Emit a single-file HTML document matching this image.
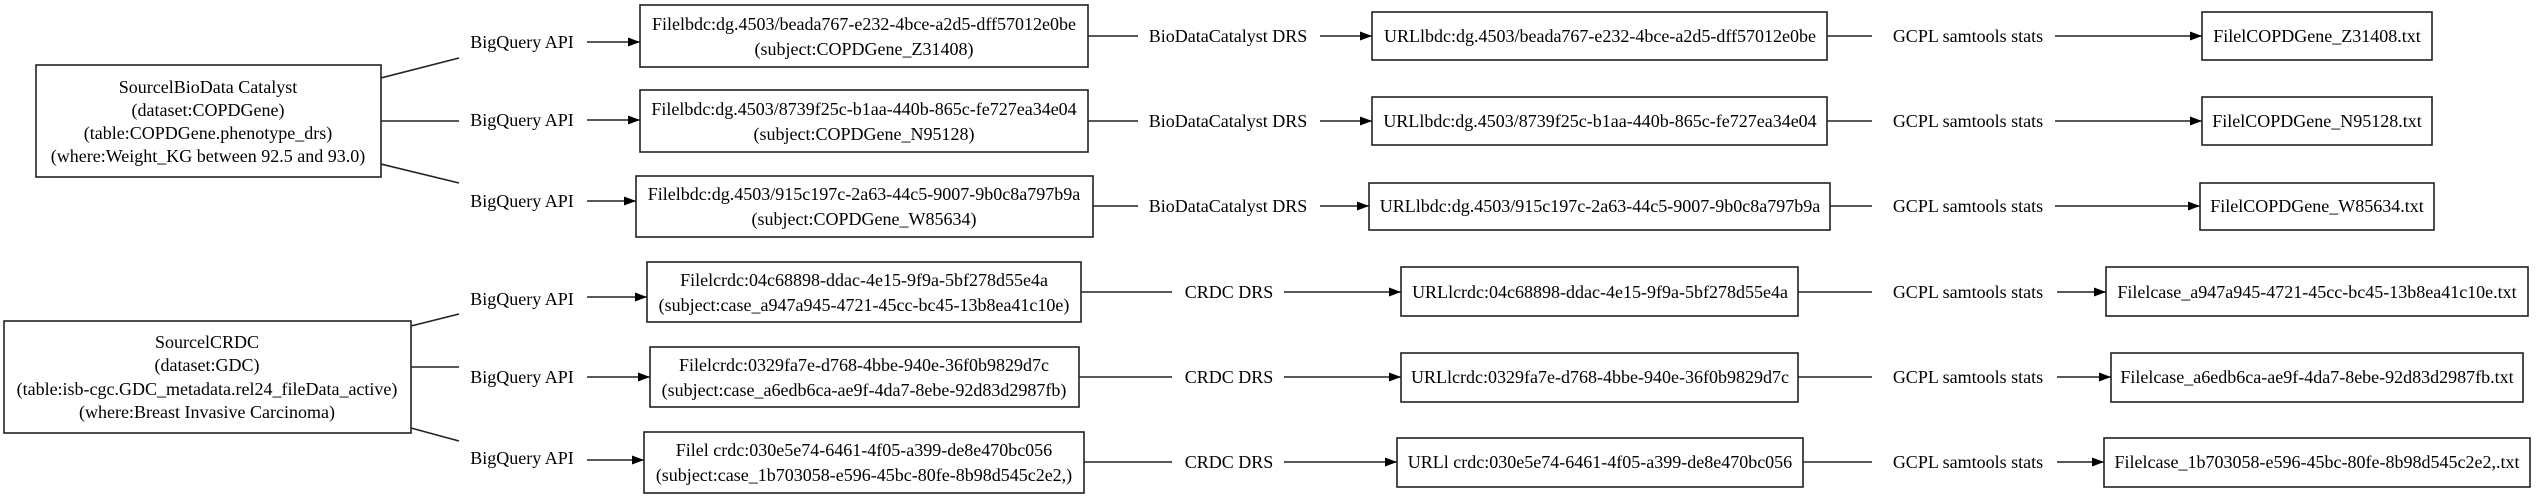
<!DOCTYPE html>
<html><head><meta charset="utf-8"><style>
html,body{margin:0;padding:0;background:#fff;}
svg{display:block;}
text{font-family:"Liberation Serif","Times New Roman",serif;font-size:18px;fill:#000;}
</style></head><body>
<svg width="2536" height="499" viewBox="0 0 2536 499" xmlns="http://www.w3.org/2000/svg">
<defs><marker id="a" markerWidth="12" markerHeight="10" refX="12" refY="5" orient="auto" markerUnits="userSpaceOnUse"><path d="M0,0.5 L12,5 L0,9.5 Z" fill="#000"/></marker></defs>
<g fill="none" stroke="#222" stroke-width="1.6">
<rect x="36" y="65" width="345" height="112"/>
<rect x="4" y="321" width="407" height="112"/>
<rect x="640" y="5" width="448" height="62"/>
<rect x="640" y="90" width="448" height="62"/>
<rect x="636" y="176" width="457" height="61"/>
<rect x="647" y="262" width="434" height="60"/>
<rect x="650" y="347" width="429" height="60"/>
<rect x="644" y="432" width="440" height="61"/>
<rect x="1372" y="12" width="455" height="48"/>
<rect x="1372" y="97" width="455" height="48"/>
<rect x="1369" y="183" width="461" height="47"/>
<rect x="1401" y="267" width="397" height="49"/>
<rect x="1401" y="353" width="397" height="49"/>
<rect x="1397" y="438" width="406" height="49"/>
<rect x="2202" y="12" width="230" height="48"/>
<rect x="2202" y="97" width="230" height="48"/>
<rect x="2200" y="183" width="234" height="47"/>
<rect x="2106" y="267" width="422" height="49"/>
<rect x="2111" y="353" width="412" height="49"/>
<rect x="2104" y="438" width="426" height="49"/>
<line x1="381" y1="78" x2="459" y2="58"/>
<line x1="381" y1="121" x2="459" y2="121"/>
<line x1="381" y1="164" x2="459" y2="183"/>
<line x1="411" y1="326" x2="459" y2="314"/>
<line x1="411" y1="367" x2="459" y2="367"/>
<line x1="411" y1="428" x2="459" y2="441"/>
<line x1="587" y1="42" x2="640" y2="42" marker-end="url(#a)"/>
<line x1="587" y1="120" x2="640" y2="120" marker-end="url(#a)"/>
<line x1="587" y1="201" x2="636" y2="201" marker-end="url(#a)"/>
<line x1="587" y1="297" x2="647" y2="297" marker-end="url(#a)"/>
<line x1="587" y1="377" x2="650" y2="377" marker-end="url(#a)"/>
<line x1="587" y1="460" x2="644" y2="460" marker-end="url(#a)"/>
<line x1="1088" y1="36" x2="1138" y2="36"/>
<line x1="1320" y1="36" x2="1372" y2="36" marker-end="url(#a)"/>
<line x1="1088" y1="121" x2="1138" y2="121"/>
<line x1="1320" y1="121" x2="1372" y2="121" marker-end="url(#a)"/>
<line x1="1093" y1="206" x2="1138" y2="206"/>
<line x1="1320" y1="206" x2="1369" y2="206" marker-end="url(#a)"/>
<line x1="1081" y1="292" x2="1172" y2="292"/>
<line x1="1284" y1="292" x2="1401" y2="292" marker-end="url(#a)"/>
<line x1="1079" y1="377" x2="1172" y2="377"/>
<line x1="1284" y1="377" x2="1401" y2="377" marker-end="url(#a)"/>
<line x1="1084" y1="462" x2="1172" y2="462"/>
<line x1="1284" y1="462" x2="1397" y2="462" marker-end="url(#a)"/>
<line x1="1827" y1="36" x2="1872" y2="36"/>
<line x1="2055" y1="36" x2="2202" y2="36" marker-end="url(#a)"/>
<line x1="1827" y1="121" x2="1872" y2="121"/>
<line x1="2055" y1="121" x2="2202" y2="121" marker-end="url(#a)"/>
<line x1="1830" y1="206" x2="1872" y2="206"/>
<line x1="2055" y1="206" x2="2200" y2="206" marker-end="url(#a)"/>
<line x1="1798" y1="292" x2="1872" y2="292"/>
<line x1="2057" y1="292" x2="2106" y2="292" marker-end="url(#a)"/>
<line x1="1798" y1="377" x2="1872" y2="377"/>
<line x1="2057" y1="377" x2="2111" y2="377" marker-end="url(#a)"/>
<line x1="1803" y1="462" x2="1872" y2="462"/>
<line x1="2057" y1="462" x2="2104" y2="462" marker-end="url(#a)"/>
</g>
<g text-anchor="middle" dominant-baseline="central">
<text x="208" y="87">SourcelBioData Catalyst</text>
<text x="208" y="110">(dataset:COPDGene)</text>
<text x="208" y="133">(table:COPDGene.phenotype_drs)</text>
<text x="208" y="156">(where:Weight_KG between 92.5 and 93.0)</text>
<text x="207" y="342">SourcelCRDC</text>
<text x="207" y="365">(dataset:GDC)</text>
<text x="207" y="389">(table:isb-cgc.GDC_metadata.rel24_fileData_active)</text>
<text x="207" y="412">(where:Breast Invasive Carcinoma)</text>

<text x="522" y="42">BigQuery API</text>
<text x="522" y="120">BigQuery API</text>
<text x="522" y="201">BigQuery API</text>
<text x="522" y="299">BigQuery API</text>
<text x="522" y="377">BigQuery API</text>
<text x="522" y="458">BigQuery API</text>

<text x="864" y="24">Filelbdc:dg.4503/beada767-e232-4bce-a2d5-dff57012e0be</text>
<text x="864" y="49">(subject:COPDGene_Z31408)</text>
<text x="864" y="109">Filelbdc:dg.4503/8739f25c-b1aa-440b-865c-fe727ea34e04</text>
<text x="864" y="134">(subject:COPDGene_N95128)</text>
<text x="864" y="194">Filelbdc:dg.4503/915c197c-2a63-44c5-9007-9b0c8a797b9a</text>
<text x="864" y="219">(subject:COPDGene_W85634)</text>
<text x="864" y="280">Filelcrdc:04c68898-ddac-4e15-9f9a-5bf278d55e4a</text>
<text x="864" y="305">(subject:case_a947a945-4721-45cc-bc45-13b8ea41c10e)</text>
<text x="864" y="365">Filelcrdc:0329fa7e-d768-4bbe-940e-36f0b9829d7c</text>
<text x="864" y="390">(subject:case_a6edb6ca-ae9f-4da7-8ebe-92d83d2987fb)</text>
<text x="864" y="450">Filel crdc:030e5e74-6461-4f05-a399-de8e470bc056</text>
<text x="864" y="475">(subject:case_1b703058-e596-45bc-80fe-8b98d545c2e2,)</text>

<text x="1228" y="36">BioDataCatalyst DRS</text>
<text x="1228" y="121">BioDataCatalyst DRS</text>
<text x="1228" y="206">BioDataCatalyst DRS</text>
<text x="1229" y="292">CRDC DRS</text>
<text x="1229" y="377">CRDC DRS</text>
<text x="1229" y="462">CRDC DRS</text>

<text x="1600" y="36">URLlbdc:dg.4503/beada767-e232-4bce-a2d5-dff57012e0be</text>
<text x="1600" y="121">URLlbdc:dg.4503/8739f25c-b1aa-440b-865c-fe727ea34e04</text>
<text x="1600" y="206">URLlbdc:dg.4503/915c197c-2a63-44c5-9007-9b0c8a797b9a</text>
<text x="1600" y="292">URLlcrdc:04c68898-ddac-4e15-9f9a-5bf278d55e4a</text>
<text x="1600" y="377">URLlcrdc:0329fa7e-d768-4bbe-940e-36f0b9829d7c</text>
<text x="1600" y="462">URLl crdc:030e5e74-6461-4f05-a399-de8e470bc056</text>

<text x="1968" y="36">GCPL samtools stats</text>
<text x="1968" y="121">GCPL samtools stats</text>
<text x="1968" y="206">GCPL samtools stats</text>
<text x="1968" y="292">GCPL samtools stats</text>
<text x="1968" y="377">GCPL samtools stats</text>
<text x="1968" y="462">GCPL samtools stats</text>

<text x="2317" y="36">FilelCOPDGene_Z31408.txt</text>
<text x="2317" y="121">FilelCOPDGene_N95128.txt</text>
<text x="2317" y="206">FilelCOPDGene_W85634.txt</text>
<text x="2317" y="292">Filelcase_a947a945-4721-45cc-bc45-13b8ea41c10e.txt</text>
<text x="2317" y="377">Filelcase_a6edb6ca-ae9f-4da7-8ebe-92d83d2987fb.txt</text>
<text x="2317" y="462">Filelcase_1b703058-e596-45bc-80fe-8b98d545c2e2,.txt</text>
</g>
</svg>
</body></html>
